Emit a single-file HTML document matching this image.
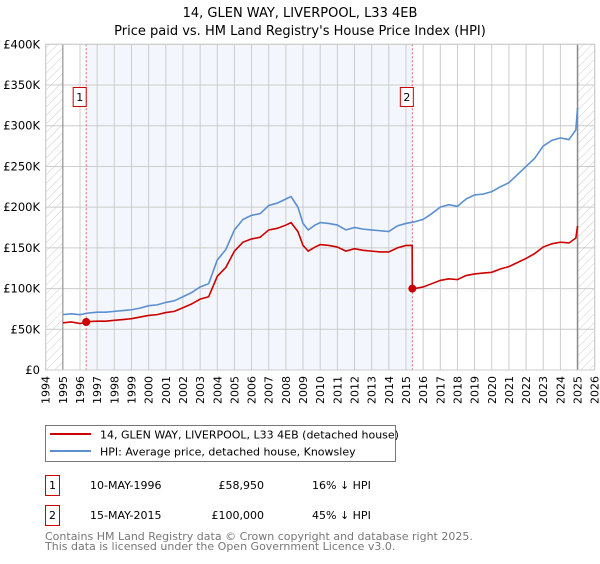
<!DOCTYPE html>
<html><head><meta charset="utf-8"><style>
body{margin:0;background:#fff;font-family:"DejaVu Sans","Liberation Sans",sans-serif;}
svg text{font-family:"DejaVu Sans","Liberation Sans",sans-serif;}
</style></head><body>
<svg id="chart" width="600" height="560" xmlns="http://www.w3.org/2000/svg">
<defs><pattern id="hatch" width="6" height="6" patternUnits="userSpaceOnUse" patternTransform="rotate(45)"><line x1="0" y1="0" x2="0" y2="6" stroke="#ccc" stroke-width="1"/></pattern></defs>
<text x="300" y="17" text-anchor="middle" font-size="13">14, GLEN WAY, LIVERPOOL, L33 4EB</text>
<text x="300" y="35" text-anchor="middle" font-size="13">Price paid vs. HM Land Registry's House Price Index (HPI)</text>
<g id="plot"></g>
<g>
<rect x="45.5" y="425.5" width="350" height="36" fill="#fff" stroke="#777"/>
<line x1="50" y1="434" x2="91" y2="434" stroke="#cc0000" stroke-width="2"/>
<text x="100" y="438.5" font-size="11">14, GLEN WAY, LIVERPOOL, L33 4EB (detached house)</text>
<line x1="50" y1="451" x2="91" y2="451" stroke="#5b8fd0" stroke-width="2"/>
<text x="100" y="455.5" font-size="11">HPI: Average price, detached house, Knowsley</text>
</g>
<g font-size="11">
<rect x="45.5" y="475.5" width="14" height="20" fill="#fff" stroke="#cc0000"/>
<text x="52.5" y="489" text-anchor="middle">1</text>
<text x="90" y="489">10-MAY-1996</text>
<text x="264" y="489" text-anchor="end">£58,950</text>
<text x="312" y="489">16% ↓ HPI</text>
<rect x="45.5" y="505.5" width="14" height="20" fill="#fff" stroke="#cc0000"/>
<text x="52.5" y="519" text-anchor="middle">2</text>
<text x="90" y="519">15-MAY-2015</text>
<text x="264" y="519" text-anchor="end">£100,000</text>
<text x="312" y="519">45% ↓ HPI</text>
</g>
<text x="45" y="540" font-size="11" fill="#777">Contains HM Land Registry data © Crown copyright and database right 2025.</text>
<text x="45" y="550" font-size="11" fill="#777">This data is licensed under the Open Government Licence v3.0.</text>
</svg>
<script>
const yTicks=[0,50,100,150,200,250,300,350,400];
const yTickLabels=["£0","£50K","£100K","£150K","£200K","£250K","£300K","£350K","£400K"];
const xTicks=[1994,1995,1996,1997,1998,1999,2000,2001,2002,2003,2004,2005,2006,2007,2008,2009,2010,2011,2012,2013,2014,2015,2016,2017,2018,2019,2020,2021,2022,2023,2024,2025,2026];
const hpiYears=[1995,1995.5,1996,1996.5,1997,1997.5,1998,1998.5,1999,1999.5,2000,2000.5,2001,2001.5,2002,2002.5,2003,2003.5,2004,2004.5,2005,2005.5,2006,2006.5,2007,2007.5,2008,2008.3,2008.7,2009,2009.3,2009.7,2010,2010.5,2011,2011.5,2012,2012.5,2013,2013.5,2014,2014.5,2015,2015.5,2016,2016.5,2017,2017.5,2018,2018.5,2019,2019.5,2020,2020.5,2021,2021.5,2022,2022.5,2023,2023.5,2024,2024.5,2024.9,2025];
const hpiValues=[68,69,68,70,71,71,72,73,74,76,79,80,83,85,90,95,102,106,135,148,172,185,190,192,202,205,210,213,200,180,172,178,181,180,178,172,175,173,172,171,170,177,180,182,185,192,200,203,201,210,215,216,219,225,230,240,250,260,275,282,285,283,295,322];
const priceYears=[1995,1995.5,1996,1996.36,1996.5,1997,1997.5,1998,1998.5,1999,1999.5,2000,2000.5,2001,2001.5,2002,2002.5,2003,2003.5,2004,2004.5,2005,2005.5,2006,2006.5,2007,2007.5,2008,2008.3,2008.7,2009,2009.3,2009.7,2010,2010.5,2011,2011.5,2012,2012.5,2013,2013.5,2014,2014.5,2015,2015.36,2015.37,2015.5,2016,2016.5,2017,2017.5,2018,2018.5,2019,2019.5,2020,2020.5,2021,2021.5,2022,2022.5,2023,2023.5,2024,2024.5,2024.9,2025];
const priceValues=[58,59,57,58.95,59.5,60,60,61,62,63,65,67,68,70.5,72,76.5,81,87,90,115,126,146,157,161,163,172,174,178,181,170,153,146,151,154,153,151,146,149,147,146,145,145,150,153,153,100,100,102,106,110,112,111,116,118,119,120,124,127,132,137,143,151,155,157,156,162,177];
const saleYears=[1996.36,2015.37];
const saleValues=[58.95,100];
const saleLabels=["1","2"];

const X0=45.7,X1=594.7,Y0=370,Y1=44.3;
const xs=v=>X0+(v-1994)/32*(X1-X0);
const ys=v=>Y0-(v/400)*(Y0-Y1);
const NS="http://www.w3.org/2000/svg";
const g=document.getElementById('plot');
function mk(t,a){const e=document.createElementNS(NS,t);for(const k in a)e.setAttribute(k,a[k]);g.appendChild(e);return e;}
let e;
e=mk('rect',{x:xs(saleYears[0]),y:Y1,width:xs(saleYears[1])-xs(saleYears[0]),height:Y0-Y1,fill:'#f3f7fd'});


e=mk('rect',{x:X0,y:Y1,width:xs(1995)-X0,height:Y0-Y1,fill:'url(#hatch)'});


e=mk('rect',{x:xs(2025),y:Y1,width:X1-xs(2025),height:Y0-Y1,fill:'url(#hatch)'});


xTicks.forEach(t=>{
  e=mk('line',{x1:xs(t),x2:xs(t),y1:Y1,y2:Y0,stroke:'#ccc','stroke-width':1});
  
  
  const tx=xs(t)+4, ty=376;
  e=mk('text',{x:tx,y:ty,'text-anchor':'end','font-size':11,transform:'rotate(-90 '+tx+' '+ty+')'});
  e.textContent=t;
  
  
});
yTicks.forEach((t,i)=>{
  e=mk('line',{x1:X0,x2:X1,y1:ys(t),y2:ys(t),stroke:'#ccc','stroke-width':1});
  
  
  e=mk('text',{x:40,y:ys(t)+4,'text-anchor':'end','font-size':11.5});
  e.textContent=yTickLabels[i];
  
  
});
e=mk('line',{x1:xs(1995),x2:xs(1995),y1:Y1,y2:Y0,stroke:'#888','stroke-width':1});


e=mk('line',{x1:xs(2025),x2:xs(2025),y1:Y1,y2:Y0,stroke:'#888','stroke-width':1.5});


saleYears.forEach((s,i)=>{
  e=mk('line',{x1:xs(s),x2:xs(s),y1:Y1,y2:Y0,stroke:'#e06666','stroke-width':1,'stroke-dasharray':'2,2'});
  
  
});
e=mk('polyline',{points:hpiYears.map((y,i)=>xs(y)+','+ys(hpiValues[i])).join(' '),fill:'none',stroke:'#5b8fd0','stroke-width':1.6});


e=mk('polyline',{points:priceYears.map((y,i)=>xs(y)+','+ys(priceValues[i])).join(' '),fill:'none',stroke:'#cc0000','stroke-width':1.6});


saleYears.forEach((s,i)=>{
  e=mk('circle',{cx:xs(s),cy:ys(saleValues[i]),r:4,fill:'#cc0000'});
  
  
  const bx=xs(s)-6-(i==0?7:6);
  e=mk('rect',{x:bx,y:87.5,width:13,height:19,fill:'#fff',stroke:'#cc0000'});
  
  
  e=mk('text',{x:bx+6.5,y:101,'text-anchor':'middle','font-size':11});
  e.textContent=saleLabels[i];
  
  
});
e=mk('rect',{x:X0,y:Y1,width:X1-X0,height:Y0-Y1,fill:'none',stroke:'#ccc'});


</script>
</body></html>
